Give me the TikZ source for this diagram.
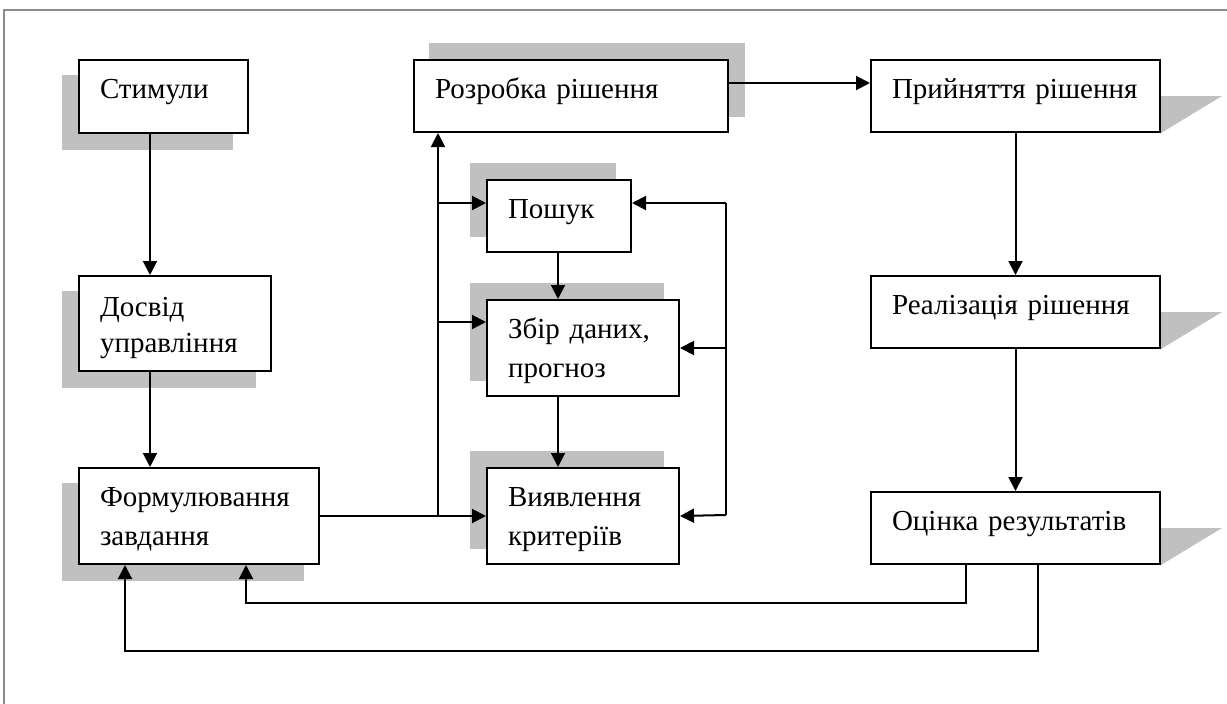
\documentclass[tikz,border=0pt]{standalone}
\usepackage{fontspec}
\setmainfont{Liberation Serif}
\usetikzlibrary{arrows.meta,backgrounds}
\definecolor{shd}{RGB}{192,192,192}
\definecolor{frm}{RGB}{140,140,140}
\tikzset{
  blk/.style 2 args={draw, line width=2pt, fill=white, anchor=north west,
    inner xsep=21pt, inner ysep=0pt, text width=#1, align=left,
    text height=38.5pt, text depth=#2,
    font=\fontsize{29}{39}\selectfont},
  arr/.style={line width=2pt, -{Triangle[length=14pt,width=14pt]}},
  ln/.style={line width=2pt},
  shade/.style={fill=shd},
}
\begin{document}
\begin{tikzpicture}[x=1pt,y=-1pt]
\useasboundingbox (0,0) rectangle (1227,704);
\draw[frm, line width=1.5pt] (4,704) -- (4,10) -- (1227,10);

% boxes
\node[blk={127pt}{34.5pt}] (stim) at (78,59) {Стимули};
\node[blk={150pt}{54.5pt}, font=\fontsize{29}{36}\selectfont, text height=40.5pt] (dosv) at (78,275) {Досвід\\управління};
\node[blk={198pt}{57.5pt}] (form) at (78,467) {Формулювання\\завдання};
\node[blk={272pt}{33.5pt}] (rozr) at (413,59) {Розробка~рішення};
\node[blk={102pt}{33.5pt}] (posh) at (486,179) {Пошук};
\node[blk={150pt}{57.5pt}] (zbir) at (486,299) {Збір~даних,\\прогноз};
\node[blk={150pt}{57.5pt}] (vyya) at (486,467) {Виявлення\\критеріїв};
\node[blk={247pt}{33.5pt}] (pryi) at (870,59) {Прийняття~рішення};
\node[blk={247pt}{33.5pt}] (real) at (870,275) {Реалізація~рішення};
\node[blk={247pt}{33.5pt}] (otsi) at (870,491) {Оцінка~результатів};

% shadows
\begin{scope}[on background layer]
  \foreach \n in {stim,dosv,form}
    \fill[shade] ([shift={(-16pt,-16pt)}]\n.north west) rectangle ([shift={(-16pt,-16pt)}]\n.south east);
  \foreach \n in {posh,zbir,vyya}
    \fill[shade] ([shift={(-16pt,16pt)}]\n.north west) rectangle ([shift={(-16pt,16pt)}]\n.south east);
  \fill[shade] ([shift={(16pt,16pt)}]rozr.north west) rectangle ([shift={(16pt,16pt)}]rozr.south east);
  \foreach \n in {pryi,real,otsi}
    \fill[shade] ([yshift=-37pt]\n.north east) -- ([shift={(61pt,-37pt)}]\n.north east) -- (\n.south east) -- cycle;
\end{scope}

% connectors
\draw[arr] ([xshift=72pt]stim.south west) -- ([xshift=72pt]dosv.north west);
\draw[arr] ([xshift=72pt]dosv.south west) -- ([xshift=72pt]form.north west);
\coordinate (j) at (438,515);
\draw[arr] (form.east) -- (vyya.west);
\draw[arr] (j) -- (j |- rozr.south);
\draw[arr] ([yshift=-24pt]posh.north west -| j) -- ([yshift=-24pt]posh.north west);
\draw[arr] ([yshift=-23pt]zbir.north west -| j) -- ([yshift=-23pt]zbir.north west);
\coordinate (rt) at (726,203);
\coordinate (rb) at (726,515);
\draw[ln] (rt) -- (rb);
\draw[arr] (rt) -- (rt -| posh.east);
\draw[arr] (zbir.east -| rt) -- (zbir.east);
\draw[arr] (rb) -- (vyya.east);
\draw[arr] ([xshift=72pt]posh.south west) -- ([xshift=72pt]zbir.north west);
\draw[arr] ([xshift=72pt]zbir.south west) -- ([xshift=72pt]vyya.north west);
\draw[arr] ([yshift=-24pt]rozr.north east) -- ([yshift=-24pt]pryi.north west);
\draw[arr] (pryi.south) -- (real.north);
\draw[arr] (real.south) -- (otsi.north);
\coordinate (f1) at (246,603);
\coordinate (f2) at (125,651);
\draw[arr] ([xshift=96pt]otsi.south west) |- (f1) -- (f1 |- form.south);
\draw[arr] ([xshift=168pt]otsi.south west) |- (f2) -- (f2 |- form.south);
\end{tikzpicture}
\end{document}
